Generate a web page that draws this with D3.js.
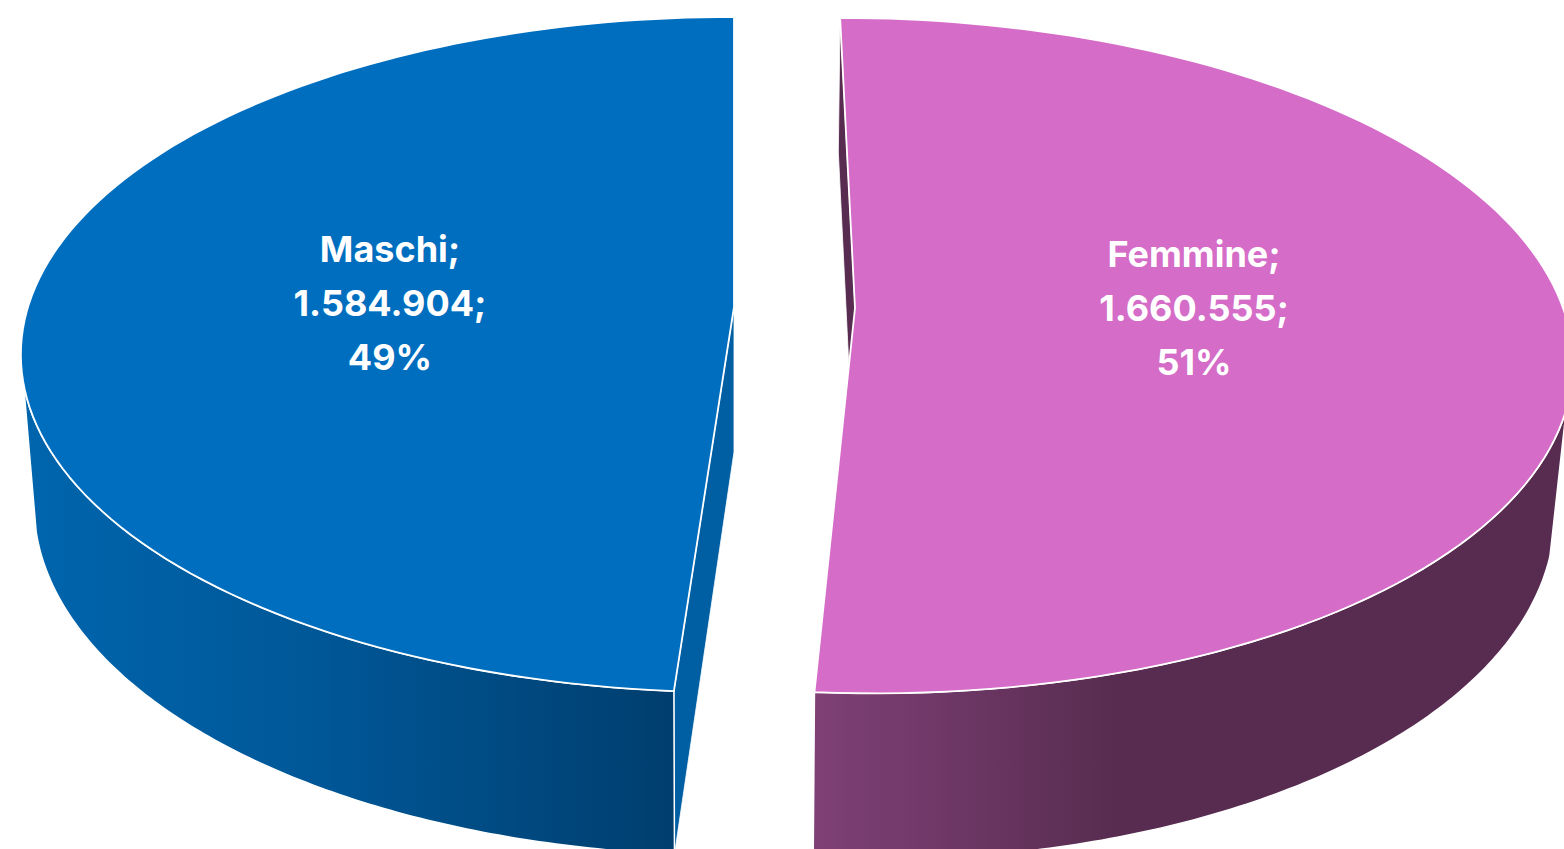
<!DOCTYPE html>
<meta charset="utf-8">
<style>
  body { margin: 0; background: #fff; overflow: hidden; }
  text { font-family: Inter, "Noto Sans", sans-serif; font-weight: 700; font-size: 36px; fill: #fff; text-anchor: middle; }
</style>
<body>
<script src="https://d3js.org/d3.v7.min.js"></script>
<script>

var categories = ["Femmine", "Maschi"];
var values = [1660555, 1584904];
var topColors = ["#d46cc8", "#006ebf"];
var innerColors = ["#582c50", "#005fa3"];

var width = 1564,
    height = 849;

var deg = Math.PI / 180;

// each slice has its own offset and a top and bottom rim in perspective
// s is a small sideways shear, the Femmine slice leans because of the camera
var layout = {
  Femmine: {
    edge: 107 * deg,
    top: { cx: 855, cy: 308, rx: 708, ry: 331, p: 0.141, s: 17 },
    bottom: { cx: 853, cy: 450, rx: 690, ry: 345, p: 0.158, s: 17 },
    label: [1194, 267]
  },
  Maschi: {
    edge: 257 * deg,
    top: { cx: 734, cy: 307, rx: 706, ry: 331, p: 0.141, s: 0 },
    bottom: { cx: 734, cy: 452, rx: 692, ry: 343, p: 0.15, s: 0 },
    label: [390, 262]
  }
};

var svg = d3.select("body").append("svg")
    .attr("width", width)
    .attr("height", height)
    .style("display", "block");

var defs = svg.append("defs");

function addGradient(id, x1, x2, stops) {
  var g = defs.append("linearGradient")
      .attr("id", id)
      .attr("gradientUnits", "userSpaceOnUse")
      .attr("x1", x1).attr("x2", x2)
      .attr("y1", 0).attr("y2", 0);
  stops.forEach(function(s) {
    g.append("stop").attr("offset", s[0]).attr("stop-color", s[1]);
  });
}

addGradient("wall-Maschi", 30, 675, [[0, "#0065ad"], [0.45, "#005797"], [1, "#003e6e"]]);
addGradient("wall-Femmine", 815, 1120, [[0, "#7f4076"], [1, "#572c50"]]);

var pie = d3.pie().value(function(d) { return d.value; }).sort(null);
var slices = pie(categories.map(function(c, i) { return { name: c, value: values[i], i: i }; }));

var line = d3.line().curve(d3.curveLinearClosed);

var itNumber = d3.formatLocale({ decimal: ",", thousands: ".", grouping: [3], currency: ["", "€"] }).format(",d");
var percent = d3.format(".0%");

function project(f, a) {
  var x = Math.sin(a), y = -Math.cos(a), w = 1 - f.p * y;
  return [f.cx + (f.rx * x + f.s * y) / w, f.cy + f.ry * y / w];
}

function rim(f, a0, a1) {
  var n = 120;
  return d3.range(n + 1).map(function(k) {
    return project(f, a0 + (a1 - a0) * k / n);
  });
}

slices.forEach(function(s) {
  var name = s.data.name,
      l = layout[name],
      a0 = s.startAngle,
      a1 = s.endAngle,
      g = svg.append("g");

  // inner wall showing in the gap, top edge for Femmine, bottom edge for Maschi
  g.append("path")
      .attr("d", line([
        [l.top.cx, l.top.cy],
        project(l.top, a0),
        project(l.bottom, a0),
        [l.bottom.cx, l.bottom.cy]
      ]))
      .attr("fill", innerColors[s.data.i])
      .attr("stroke", "#fff")
      .attr("stroke-width", 0.8);

  // outer wall
  var w0 = name == "Maschi" ? a0 : l.edge,
      w1 = name == "Maschi" ? l.edge : a1;
  g.append("path")
      .attr("d", line(rim(l.top, w0, w1).concat(rim(l.bottom, w1, w0))))
      .attr("fill", "url(#wall-" + name + ")")
      .attr("stroke", "#fff")
      .attr("stroke-width", 1.5);

  // top face
  g.append("path")
      .attr("d", line([[l.top.cx, l.top.cy]].concat(rim(l.top, a0, a1))))
      .attr("fill", topColors[s.data.i])
      .attr("stroke", "#fff")
      .attr("stroke-width", 1.8)
      .attr("stroke-linejoin", "round");

  var label = g.append("text");
  [name + ";", itNumber(s.value) + ";", percent(s.value / d3.sum(values))].forEach(function(t, i) {
    label.append("tspan")
        .attr("x", l.label[0])
        .attr("y", l.label[1] + i * 54)
        .text(t);
  });
});

</script>
</body>
